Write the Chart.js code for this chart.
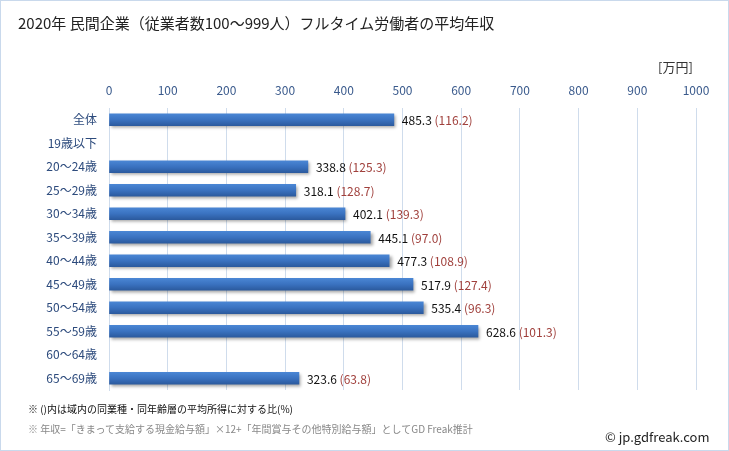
<!DOCTYPE html>
<html>
<head>
<meta charset="utf-8">
<script src="https://cdn.jsdelivr.net/npm/chart.js@4/dist/chart.umd.min.js"></script>
<style>
  body { margin: 0; background: #fff; }
  #wrap { position: relative; width: 729px; height: 451px; font-family: "Noto Sans CJK JP", "Noto Sans", sans-serif; }
  #chart { position: absolute; left: 0; top: 0; }
  .txt { position: absolute; white-space: nowrap; }
  #title { left: 18px; top: 12px; font-size: 15px; color: #222; }
  #unit { left: 658px; top: 57px; font-size: 13px; color: #333; }
  #note1 { left: 28px; top: 401px; font-size: 10px; color: #111; }
  #note2 { left: 28px; top: 421px; font-size: 10px; color: #888; }
  #copy { left: 605px; top: 427px; font-size: 13px; color: #222; }
</style>
</head>
<body>
<div id="wrap">
  <canvas id="chart" width="729" height="451"></canvas>
  <div class="txt" id="title">2020年 民間企業（従業者数100～999人）フルタイム労働者の平均年収</div>
  <div class="txt" id="unit">[万円]</div>
  <div class="txt" id="note1">※ ()内は域内の同業種・同年齢層の平均所得に対する比(%)</div>
  <div class="txt" id="note2">※ 年収=「きまって支給する現金給与額」×12+「年間賞与その他特別給与額」としてGD Freak推計</div>
  <div class="txt" id="copy">© jp.gdfreak.com</div>
</div>
<script>
// Data
const categories = ['全体', '19歳以下', '20～24歳', '25～29歳', '30～34歳', '35～39歳', '40～44歳', '45～49歳', '50～54歳', '55～59歳', '60～64歳', '65～69歳'];
const salary = [485.3, null, 338.8, 318.1, 402.1, 445.1, 477.3, 517.9, 535.4, 628.6, null, 323.6];
const ratio = [116.2, null, 125.3, 128.7, 139.3, 97.0, 108.9, 127.4, 96.3, 101.3, null, 63.8];
const xTicks = [0, 100, 200, 300, 400, 500, 600, 700, 800, 900, 1000];

const FONT = '"Noto Sans CJK JP", "Noto Sans", sans-serif';

// bar gradient, one per bar
function barColor(ctx) {
  const chart = ctx.chart;
  if (!chart.chartArea || !chart.scales.y) return '#3a70be';
  const yc = chart.scales.y.getPixelForValue(ctx.dataIndex);
  const g = chart.ctx.createLinearGradient(0, yc - 6, 0, yc + 6);
  g.addColorStop(0, '#4a86d4');
  g.addColorStop(0.5, '#3a72c0');
  g.addColorStop(1, '#2b5a9e');
  return g;
}

const shadowPlugin = {
  id: 'shadow',
  beforeDatasetsDraw(chart) {
    const c = chart.ctx;
    c.save();
    c.shadowColor = 'rgba(0,0,0,0.35)';
    c.shadowOffsetX = 2;
    c.shadowOffsetY = 2;
    c.shadowBlur = 3;
  },
  afterDatasetsDraw(chart) {
    chart.ctx.restore();
  }
};

const labelPlugin = {
  id: 'valueLabels',
  afterDatasetsDraw(chart) {
    const c = chart.ctx;
    const meta = chart.getDatasetMeta(0);
    c.save();
    c.font = '12px ' + FONT;
    c.textBaseline = 'middle';
    c.textAlign = 'left';
    meta.data.forEach((bar, i) => {
      if (salary[i] == null) return;
      const v = salary[i].toFixed(1);
      const x = bar.x + 8;
      const y = bar.y + 1;
      c.fillStyle = '#111';
      c.fillText(v, x, y);
      const w = c.measureText(v + ' ').width;
      c.fillStyle = '#a0403c';
      c.fillText('(' + ratio[i].toFixed(1) + ')', x + w, y);
    });
    c.restore();
  }
};

const framePlugin = {
  id: 'frame',
  afterDraw(chart) {
    const c = chart.ctx;
    c.save();
    c.strokeStyle = '#c9d9ec';
    c.lineWidth = 1;
    c.strokeRect(0.5, 0.5, 728, 450);
    c.restore();
  }
};

new Chart(document.getElementById('chart'), {
  type: 'bar',
  data: {
    labels: categories,
    datasets: [{
      data: salary,
      backgroundColor: barColor,
      borderWidth: 0,
      barThickness: 12
    }]
  },
  options: {
    indexAxis: 'y',
    responsive: false,
    animation: false,
    layout: { padding: { left: 0, right: 33, top: 78, bottom: 61 } },
    plugins: { legend: { display: false }, tooltip: { enabled: false } },
    scales: {
      x: {
        position: 'top',
        min: 0,
        max: 1000,
        afterBuildTicks(scale) { scale.ticks = xTicks.map(v => ({ value: v })); },
        afterFit(scale) { scale.height = 30; },
        grid: { color: '#cfdcec', drawTicks: false },
        border: { display: false },
        ticks: { color: '#3a5a8c', font: { size: 12, family: FONT }, padding: 10, callback: v => String(v) }
      },
      y: {
        afterFit(scale) { scale.width = 109; },
        grid: { display: false, drawTicks: false },
        border: { color: '#cfdcec' },
        ticks: { color: '#2c4a7c', font: { size: 12, family: FONT }, padding: 12 }
      }
    }
  },
  plugins: [shadowPlugin, labelPlugin, framePlugin]
});
</script>
</body>
</html>
